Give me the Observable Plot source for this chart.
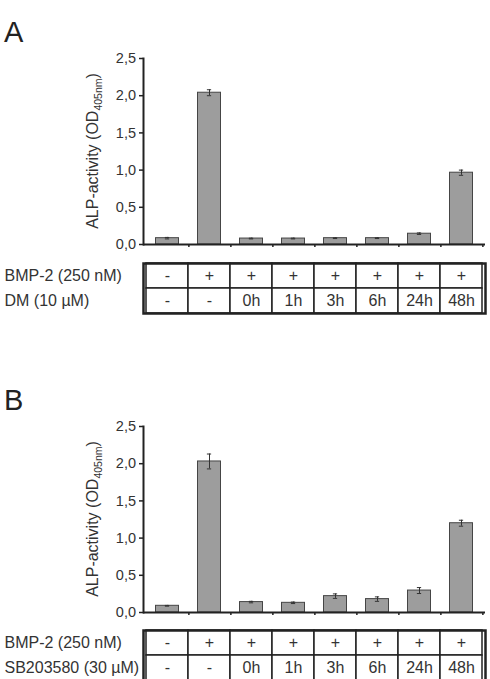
<!DOCTYPE html>
<html>
<head>
<meta charset="utf-8">
<script src="https://cdn.jsdelivr.net/npm/d3@7"></script>
<script src="https://cdn.jsdelivr.net/npm/@observablehq/plot@0.6"></script>
<style>
  body { margin: 0; background: #fff; font-family: "Liberation Sans", Arial, sans-serif; }
  #root { position: relative; width: 490px; height: 679px; overflow: hidden; background: #fff; }
  .letter { position: absolute; left: 4px; font-size: 29px; line-height: 29px; color: #222; }
  .block { position: absolute; left: 0; }
</style>
</head>
<body>
<div id="root"></div>
<script>
// Treatment groups (one bar per group)
const groups = ["ctrl", "bmp", "t0", "t1", "t3", "t6", "t24", "t48"];
// Table rows under the bars
const bmpRow = ["-", "+", "+", "+", "+", "+", "+", "+"];
const timeRow = ["-", "-", "0h", "1h", "3h", "6h", "24h", "48h"];
const rowLabelsA = ["BMP-2 (250 nM)", "DM (10 µM)"];
const rowLabelsB = ["BMP-2 (250 nM)", "SB203580 (30 µM)"];
// ALP activity (OD405nm), mean and error
const alpDM = [0.085, 2.04, 0.08, 0.08, 0.085, 0.085, 0.145, 0.965];
const errDM = [0.01, 0.04, 0.005, 0.005, 0.005, 0.005, 0.01, 0.035];
const alpSB = [0.09, 2.03, 0.14, 0.13, 0.22, 0.18, 0.295, 1.2];
const errSB = [0.005, 0.1, 0.01, 0.01, 0.03, 0.03, 0.04, 0.04];
const yTicks = [0, 0.5, 1, 1.5, 2, 2.5];

const FONT = "Liberation Sans, Arial, sans-serif";
const W = 490, ML = 143, MR = 5;
const bandW = (W - ML - MR) / groups.length;
const fmt = d => d.toFixed(1).replace(".", ",");

function barChart(values, errors, height, marginTop) {
  const data = groups.map((g, i) => ({g, v: values[i], e: errors[i]}));
  const svg = Plot.plot({
    width: W, height, marginLeft: ML, marginRight: MR, marginTop, marginBottom: 8,
    style: {fontFamily: FONT, fontSize: "14.5px", color: "#333", background: "transparent", overflow: "visible"},
    x: {domain: groups, padding: 0, axis: null},
    y: {domain: [0, 2.5], axis: null},
    marks: [
      Plot.barY(data, {x: "g", y: "v", fill: "#9d9d9d", stroke: "#454545", strokeWidth: 1, insetLeft: 9.5, insetRight: 9.5}),
      Plot.ruleX(data, {x: "g", y1: d => d.v - d.e, y2: d => d.v + d.e, stroke: "#333", strokeWidth: 1}),
      Plot.tickY(data, {x: "g", y: d => d.v - d.e, stroke: "#333", inset: bandW / 2 - 2.5}),
      Plot.tickY(data, {x: "g", y: d => d.v + d.e, stroke: "#333", inset: bandW / 2 - 2.5}),
      Plot.axisY({ticks: yTicks, tickSize: 4, tickPadding: 3.5, tickFormat: fmt, label: null, stroke: "#222", strokeWidth: 1.5, fill: "#333"}),
      Plot.axisX({tickSize: 3, tickFormat: () => "", dx: bandW / 2, label: null, stroke: "#222", strokeWidth: 1.5}),
      Plot.ruleY([0], {stroke: "#222", strokeWidth: 2}),
      Plot.frame({anchor: "left", stroke: "#222", strokeWidth: 2})
    ]
  });
  // Rotated axis title with subscript
  const s = d3.select(svg);
  const cy = marginTop + (height - marginTop - 8) / 2;
  const t = s.append("text")
    .attr("transform", `translate(98,${cy}) rotate(-90)`)
    .attr("text-anchor", "middle")
    .attr("font-family", FONT)
    .attr("font-size", 16)
    .attr("fill", "#333");
  t.append("tspan").text("ALP-activity (OD");
  t.append("tspan").attr("font-size", 10.5).attr("dy", 4).text("405nm");
  t.append("tspan").attr("dy", -4).text(")");
  return svg;
}

function table(labels) {
  const cells = [];
  groups.forEach((g, i) => {
    cells.push({g, row: labels[0], text: bmpRow[i]});
    cells.push({g, row: labels[1], text: timeRow[i]});
  });
  return Plot.plot({
    width: W, height: 52, marginLeft: ML, marginRight: MR, marginTop: 1, marginBottom: 1,
    style: {fontFamily: FONT, fontSize: "16px", color: "#333", background: "transparent", overflow: "visible"},
    x: {domain: groups, padding: 0, axis: null},
    y: {domain: labels, padding: 0, axis: null},
    marks: [
      Plot.cell(cells, {x: "g", y: "row", fill: "white", stroke: "#222", strokeWidth: 1.5}),
      Plot.text(cells, {x: "g", y: "row", text: "text", fontSize: 16, fill: "#333"}),
      Plot.frame({stroke: "#222", strokeWidth: 2.5}),
      Plot.axisY({tickSize: 0, tickPadding: 0, textAnchor: "start", dx: -(ML - 4), fontSize: 16, fill: "#333", label: null})
    ]
  });
}

const root = document.getElementById("root");
function place(node, top) {
  const div = document.createElement("div");
  div.className = "block";
  div.style.top = top + "px";
  div.appendChild(node);
  root.appendChild(div);
}
function letter(ch, top) {
  const div = document.createElement("div");
  div.className = "letter";
  div.style.top = top + "px";
  div.textContent = ch;
  root.appendChild(div);
}

letter("A", 18);
place(barChart(alpDM, errDM, 252, 58), 0);
place(table(rowLabelsA), 261.5);

letter("B", 386);
place(barChart(alpSB, errSB, 290, 96), 330);
place(table(rowLabelsB), 628.5);
</script>
</body>
</html>
